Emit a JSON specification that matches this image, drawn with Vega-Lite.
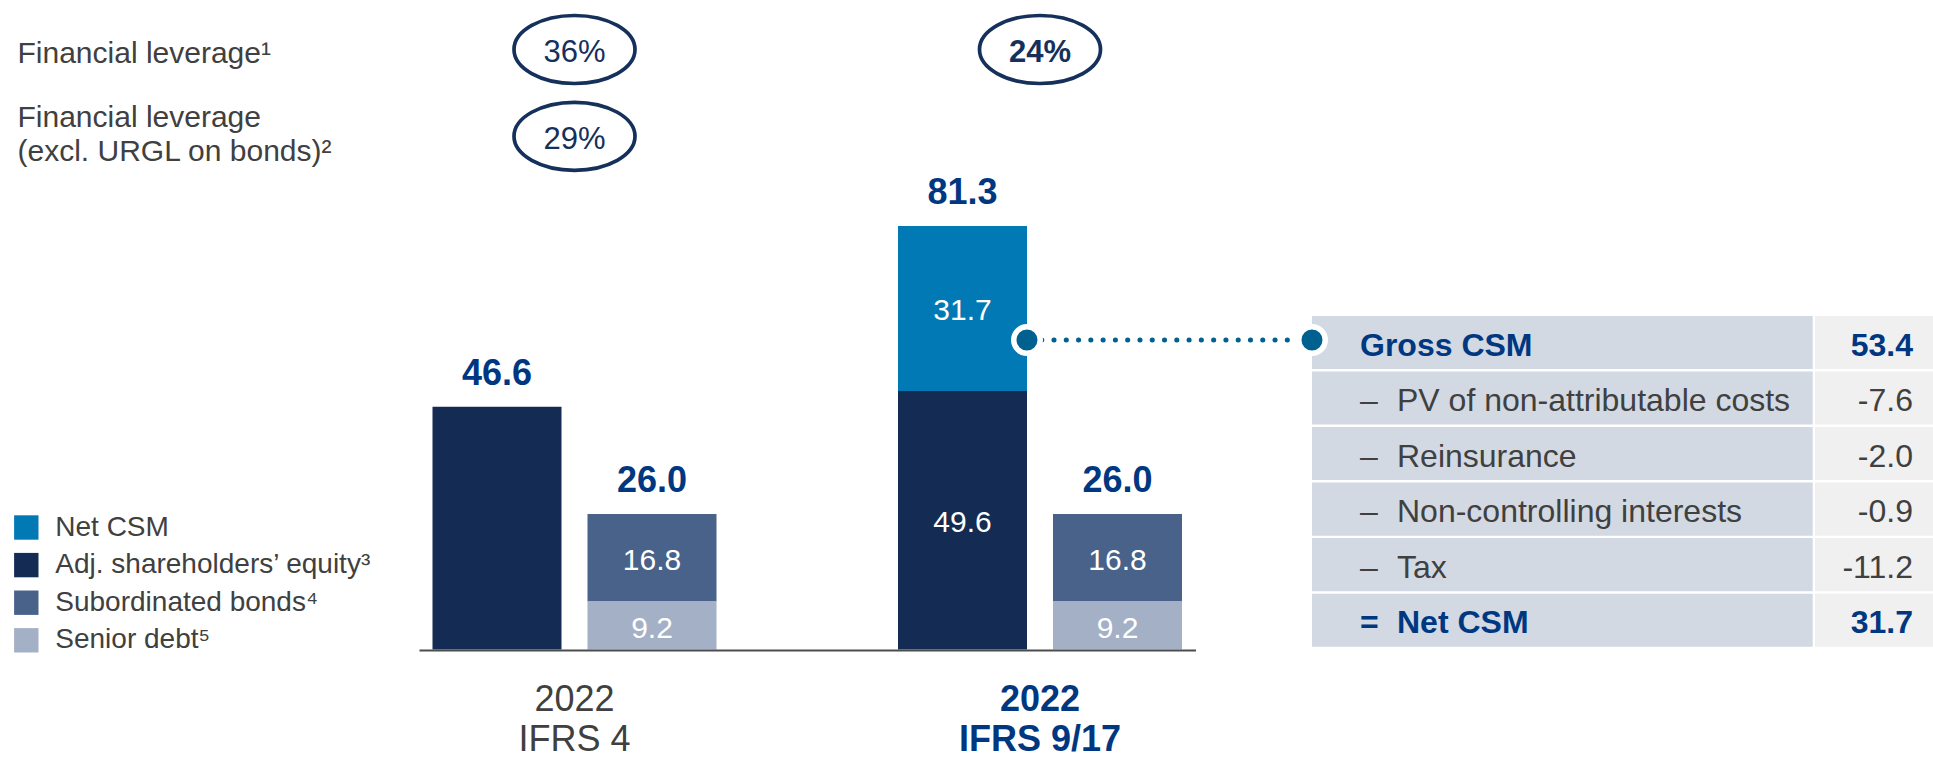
{
  "$schema": "https://vega.github.io/schema/vega-lite/v6.json",
  "width": 1933,
  "height": 760,
  "padding": 0,
  "autosize": {"type": "none"},
  "background": "white",
  "config": {
    "font": "Liberation Sans",
    "view": {"stroke": null},
    "axis": {"grid": false},
    "locale": {"number": {"decimal": ".", "thousands": ",", "grouping": [3], "currency": ["$", ""], "minus": "-"}}
  },
  "datasets": {
    "capital": [
      {"group": "2022|IFRS 4", "pillar": "capital", "component": "Adj. shareholders’ equity³", "value": 46.6},
      {"group": "2022|IFRS 4", "pillar": "debt", "component": "Subordinated bonds⁴", "value": 16.8},
      {"group": "2022|IFRS 4", "pillar": "debt", "component": "Senior debt⁵", "value": 9.2},
      {"group": "2022|IFRS 9/17", "pillar": "capital", "component": "Adj. shareholders’ equity³", "value": 49.6},
      {"group": "2022|IFRS 9/17", "pillar": "capital", "component": "Net CSM", "value": 31.7},
      {"group": "2022|IFRS 9/17", "pillar": "debt", "component": "Subordinated bonds⁴", "value": 16.8},
      {"group": "2022|IFRS 9/17", "pillar": "debt", "component": "Senior debt⁵", "value": 9.2}
    ],
    "leverage": [
      {"group": "2022|IFRS 4", "metric": "Financial leverage¹", "ratio": 0.36},
      {"group": "2022|IFRS 4", "metric": "Financial leverage|(excl. URGL on bonds)²", "ratio": 0.29},
      {"group": "2022|IFRS 9/17", "metric": "Financial leverage¹", "ratio": 0.24}
    ],
    "csm": [
      {"item": "Gross CSM", "prefix": "", "kind": "total", "value": 53.4},
      {"item": "PV of non-attributable costs", "prefix": "–", "kind": "deduction", "value": -7.6},
      {"item": "Reinsurance", "prefix": "–", "kind": "deduction", "value": -2.0},
      {"item": "Non-controlling interests", "prefix": "–", "kind": "deduction", "value": -0.9},
      {"item": "Tax", "prefix": "–", "kind": "deduction", "value": -11.2},
      {"item": "Net CSM", "prefix": "=", "kind": "total", "value": 31.7}
    ],
    "link": [
      {"from": "2022|IFRS 9/17", "to": "Gross CSM"}
    ]
  },
  "resolve": {
    "scale": {"x": "independent", "y": "independent"},
    "axis": {"x": "independent", "y": "independent"}
  },
  "layer": [
    {
      "data": {"name": "capital"},
      "layer": [
        {
          "mark": {"type": "bar"},
          "encoding": {
            "x": {
              "field": "group", "type": "nominal",
              "scale": {"type": "band", "domain": ["2022|IFRS 4", "2022|IFRS 9/17"], "range": [419, 1195.5], "paddingInner": 0.3899, "paddingOuter": 0.029, "round": false},
              "axis": {
                "orient": "bottom", "offset": -110, "title": null, "zindex": 1,
                "domain": true, "domainColor": "#4D4D4D", "domainWidth": 2, "ticks": false,
                "labelPadding": 32, "labelAngle": 0, "labelFontSize": 36, "labelLineHeight": 40.5,
                "labelBaseline": "top", "labelExpr": "split(datum.label, '|')", "labelLimit": 400, "labelOverlap": false,
                "labelColor": {"condition": {"test": "datum.value == '2022|IFRS 9/17'", "value": "#003781"}, "value": "#404040"},
                "labelFontWeight": {"condition": {"test": "datum.value == '2022|IFRS 9/17'", "value": "bold"}, "value": "normal"}
              }
            },
            "xOffset": {"field": "pillar", "type": "nominal", "scale": {"domain": ["capital", "debt"], "paddingInner": 0.1677, "paddingOuter": 0, "round": false}},
            "y": {"field": "value", "type": "quantitative", "stack": "zero", "scale": {"domain": [-21.21, 124.66], "nice": false, "zero": false}, "axis": null},
            "color": {
              "field": "component", "type": "nominal",
              "scale": {
                "domain": ["Net CSM", "Adj. shareholders’ equity³", "Subordinated bonds⁴", "Senior debt⁵"],
                "range": ["#0079B4", "#142B53", "#48628A", "#A4B0C5"]
              },
              "legend": {
                "orient": "none", "legendX": 12.3, "legendY": 513.5, "title": null, "padding": 0,
                "symbolType": "square", "symbolSize": 595, "symbolStrokeWidth": 0, "symbolOpacity": 1,
                "labelFontSize": 28, "labelColor": "#404040", "labelOffset": 15, "rowPadding": 9.6, "labelLimit": 600
              }
            },
            "order": {"field": "component", "sort": "ascending"}
          }
        },
        {
          "transform": [
            {"stack": "value", "groupby": ["group", "pillar"], "sort": [{"field": "component", "order": "ascending"}], "as": ["v0", "v1"]},
            {"filter": "datum.group != '2022|IFRS 4' || datum.pillar != 'capital'"},
            {"fold": ["v0", "v1"], "as": ["edge", "pos"]},
            {"aggregate": [{"op": "mean", "field": "pos", "as": "mid"}], "groupby": ["group", "pillar", "component", "value"]}
          ],
          "mark": {"type": "text", "color": "white", "fontSize": 30, "baseline": "middle", "dy": 3},
          "encoding": {
            "x": {"field": "group", "type": "nominal"},
            "xOffset": {"field": "pillar", "type": "nominal"},
            "y": {"field": "mid", "type": "quantitative", "stack": null, "axis": null},
            "text": {"field": "value", "type": "quantitative", "format": ".1f"}
          }
        },
        {
          "transform": [
            {"aggregate": [{"op": "sum", "field": "value", "as": "total"}], "groupby": ["group", "pillar"]}
          ],
          "mark": {"type": "text", "color": "#003781", "fontSize": 36, "fontWeight": "bold", "baseline": "alphabetic", "dy": -22},
          "encoding": {
            "x": {"field": "group", "type": "nominal"},
            "xOffset": {"field": "pillar", "type": "nominal"},
            "y": {"field": "total", "type": "quantitative", "stack": null, "axis": null},
            "text": {"field": "total", "type": "quantitative", "format": ".1f"}
          }
        }
      ]
    },
    {
      "data": {"name": "leverage"},
      "layer": [
        {
          "mark": {"type": "point", "shape": "M-1,0A1,0.562,0,1,0,1,0A1,0.562,0,1,0,-1,0Z", "filled": false, "size": 14641, "color": "#14305B", "strokeWidth": 3.7, "opacity": 1},
          "encoding": {
            "x": {"field": "group", "type": "nominal", "scale": {"type": "band", "domain": ["2022|IFRS 4", "2022|IFRS 9/17"], "range": [419, 1195.5], "paddingInner": 0.3899, "paddingOuter": 0.029, "round": false}, "axis": null},
            "y": {
              "field": "metric", "type": "nominal",
              "scale": {"type": "point", "domain": ["Financial leverage¹", "Financial leverage|(excl. URGL on bonds)²"], "range": [49.5, 136.3], "padding": 0, "round": false},
              "axis": {
                "orient": "left", "offset": -17, "title": null, "domain": false, "ticks": false,
                "labelPadding": 0, "labelAlign": "left", "labelBaseline": "middle", "labelFontSize": 30,
                "labelColor": "#404040", "labelLimit": 600, "labelExpr": "split(datum.label, '|')",
                "labelLineHeight": 34, "labelOverlap": false,
                "labelOffset": {"condition": {"test": "datum.value == 'Financial leverage¹'", "value": 4.2}, "value": -19.3}
              }
            }
          }
        },
        {
          "mark": {"type": "text", "fontSize": 31, "color": "#14305B", "baseline": "middle", "dy": 3.8, "fontWeight": {"expr": "datum.group == '2022|IFRS 9/17' ? 'bold' : 'normal'"}},
          "encoding": {
            "x": {"field": "group", "type": "nominal", "axis": null},
            "y": {"field": "metric", "type": "nominal"},
            "text": {"field": "ratio", "type": "quantitative", "format": ".0%"}
          }
        }
      ]
    },
    {
      "data": {"name": "csm"},
      "layer": [
        {
          "mark": {"type": "rect", "color": "#D2D9E3"},
          "encoding": {
            "x": {"datum": "CSM", "type": "nominal", "bandPosition": 0, "scale": {"type": "band", "domain": ["CSM"], "range": [1312, 1933], "paddingInner": 0, "paddingOuter": 0, "round": false}, "axis": null},
            "x2": {"datum": "CSM", "bandPosition": 0.8063},
            "y": {"field": "item", "type": "nominal", "scale": {"type": "band", "domain": ["Gross CSM", "PV of non-attributable costs", "Reinsurance", "Non-controlling interests", "Tax", "Net CSM"], "range": [316, 646.7], "paddingInner": 0.0444, "paddingOuter": 0, "round": false}, "axis": null}
          }
        },
        {
          "mark": {"type": "rect", "color": "#F0F0F0"},
          "encoding": {
            "x": {"datum": "CSM", "type": "nominal", "bandPosition": 0.81, "axis": null},
            "x2": {"datum": "CSM", "bandPosition": 1},
            "y": {"field": "item", "type": "nominal", "axis": null}
          }
        },
        {
          "transform": [{"filter": "datum.prefix == ''"}],
          "mark": {"type": "text", "fontSize": 32, "align": "left", "baseline": "middle", "dy": 3,
                   "fontWeight": {"expr": "datum.kind == 'total' ? 'bold' : 'normal'"},
                   "fill": {"expr": "datum.kind == 'total' ? '#003781' : '#404040'"}},
          "encoding": {
            "x": {"datum": "CSM", "type": "nominal", "bandPosition": 0.0773, "axis": null},
            "y": {"field": "item", "type": "nominal", "axis": null},
            "text": {"field": "item"}
          }
        },
        {
          "transform": [{"filter": "datum.prefix != ''"}],
          "mark": {"type": "text", "fontSize": 32, "align": "left", "baseline": "middle", "dy": 3,
                   "fontWeight": {"expr": "datum.kind == 'total' ? 'bold' : 'normal'"},
                   "fill": {"expr": "datum.kind == 'total' ? '#003781' : '#404040'"}},
          "encoding": {
            "x": {"datum": "CSM", "type": "nominal", "bandPosition": 0.1369, "axis": null},
            "y": {"field": "item", "type": "nominal", "axis": null},
            "text": {"field": "item"}
          }
        },
        {
          "transform": [{"filter": "datum.prefix != ''"}],
          "mark": {"type": "text", "fontSize": 32, "align": "left", "baseline": "middle", "dy": 3,
                   "fontWeight": {"expr": "datum.kind == 'total' ? 'bold' : 'normal'"},
                   "fill": {"expr": "datum.kind == 'total' ? '#003781' : '#404040'"}},
          "encoding": {
            "x": {"datum": "CSM", "type": "nominal", "bandPosition": 0.0773, "axis": null},
            "y": {"field": "item", "type": "nominal", "axis": null},
            "text": {"field": "prefix"}
          }
        },
        {
          "mark": {"type": "text", "fontSize": 32, "align": "right", "baseline": "middle", "dy": 3,
                   "fontWeight": {"expr": "datum.kind == 'total' ? 'bold' : 'normal'"},
                   "fill": {"expr": "datum.kind == 'total' ? '#003781' : '#404040'"}},
          "encoding": {
            "x": {"datum": "CSM", "type": "nominal", "bandPosition": 0.9678, "axis": null},
            "y": {"field": "item", "type": "nominal", "axis": null},
            "text": {"field": "value", "type": "quantitative", "format": ".1f"}
          }
        }
      ]
    },
    {
      "data": {"name": "link"},
      "layer": [
        {
          "mark": {"type": "rule", "color": "#00608F", "strokeWidth": 5, "strokeDash": [0.1, 12.18], "strokeCap": "round", "strokeDashOffset": 9.88},
          "encoding": {
            "x": {"field": "from", "type": "nominal", "bandPosition": 0.4542, "scale": {"type": "band", "domain": ["2022|IFRS 4", "2022|IFRS 9/17"], "range": [419, 1195.5], "paddingInner": 0.3899, "paddingOuter": 0.029, "round": false}, "axis": null},
            "x2": {"field": "from", "bandPosition": 1.4577},
            "y": {"field": "to", "type": "nominal", "bandPosition": 0.453, "scale": {"type": "band", "domain": ["Gross CSM", "PV of non-attributable costs", "Reinsurance", "Non-controlling interests", "Tax", "Net CSM"], "range": [316, 646.7], "paddingInner": 0.0444, "paddingOuter": 0, "round": false}, "axis": null}
          }
        },
        {
          "mark": {"type": "point", "shape": "circle", "filled": true, "size": 702, "color": "#00608F", "stroke": "white", "strokeWidth": 5.5, "opacity": 1},
          "encoding": {
            "x": {"field": "from", "type": "nominal", "bandPosition": 0.4542, "axis": null},
            "y": {"field": "to", "type": "nominal", "bandPosition": 0.453, "axis": null}
          }
        },
        {
          "mark": {"type": "point", "shape": "circle", "filled": true, "size": 702, "color": "#00608F", "stroke": "white", "strokeWidth": 5.5, "opacity": 1},
          "encoding": {
            "x": {"field": "from", "type": "nominal", "bandPosition": 1.4577, "axis": null},
            "y": {"field": "to", "type": "nominal", "bandPosition": 0.453, "axis": null}
          }
        }
      ]
    }
  ]
}
